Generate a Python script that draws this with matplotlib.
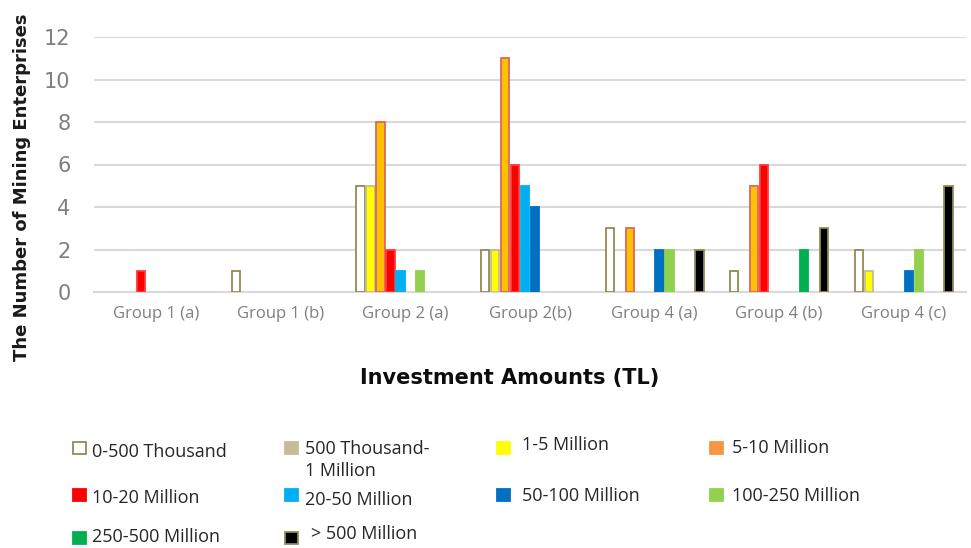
import numpy as np
import matplotlib
matplotlib.use('Agg')
import matplotlib.pyplot as plt
from matplotlib.patches import Rectangle

# categories
groups = ['Group 1 (a)', 'Group 1 (b)', 'Group 2 (a)', 'Group 2(b)',
          'Group 4 (a)', 'Group 4 (b)', 'Group 4 (c)']

# number of enterprises per investment class
v_0_500k   = [0, 1, 5, 2, 3, 1, 2]
v_500k_1m  = [0, 0, 0, 0, 0, 0, 0]
v_1_5m     = [0, 0, 5, 2, 0, 0, 1]
v_5_10m    = [0, 0, 8, 11, 3, 5, 0]
v_10_20m   = [1, 0, 2, 6, 0, 6, 0]
v_20_50m   = [0, 0, 1, 5, 0, 0, 0]
v_50_100m  = [0, 0, 0, 4, 2, 0, 1]
v_100_250m = [0, 0, 1, 0, 2, 0, 2]
v_250_500m = [0, 0, 0, 0, 0, 2, 0]
v_500m     = [0, 0, 0, 0, 2, 3, 5]

labels = ['0-500 Thousand', '500 Thousand-\n1 Million', '1-5 Million', '5-10 Million',
          '10-20 Million', '20-50 Million', '50-100 Million', '100-250 Million',
          '250-500 Million', '> 500 Million']
values = [v_0_500k, v_500k_1m, v_1_5m, v_5_10m, v_10_20m, v_20_50m,
          v_50_100m, v_100_250m, v_250_500m, v_500m]

# (fill, edge) for bars, and legend fill
bar_style = [('white', '#948a54'), ('#c4bd97', '#c4bd97'), ('#ffff00', '#c4bd97'),
             ('#ffc000', '#d9695f'), ('#ff0000', '#ff3b3b'), ('#00b0f0', '#00b0f0'),
             ('#0070c0', '#0070c0'), ('#92d050', '#92d050'), ('#00b050', '#00b050'),
             ('black', '#948a54')]
leg_fill = ['white', '#c4bd97', '#ffff00', '#f79646', '#ff0000', '#00b0f0',
            '#0070c0', '#92d050', '#00b050', 'black']
# slot of each series inside a cluster (500k-1M series sits empty near the end)
slot = [0, 8, 1, 2, 3, 4, 5, 6, 7, 9]

W, H = 971, 548
fig = plt.figure(figsize=(W / 100, H / 100), dpi=100)
ax = fig.add_axes([94 / W, 1 - 292 / H, 872 / W, 255 / H])

x = np.arange(len(groups))
step = 0.08
for k in range(len(values)):
    v = np.array(values[k], dtype=float)
    m = v > 0
    if not m.any():
        continue
    fc, ec = bar_style[k]
    ax.bar(x[m] + (slot[k] - 4.5) * step, v[m], width=0.066,
           color=fc, edgecolor=ec, linewidth=1.3, zorder=3)

ax.set_xlim(-0.5, len(groups) - 0.5)
ax.set_ylim(0, 12)
ax.set_yticks(np.arange(0, 13, 2))
ax.set_xticks(x)
ax.set_xticklabels(groups, fontsize=12, color='#7f7f7f', family=['Open Sans', 'DejaVu Sans'])
for t in ax.get_yticklabels():
    t.set_fontsize(15)
    t.set_color('#7f7f7f')
ax.tick_params(axis='both', length=0)
ax.tick_params(axis='y', pad=17)
ax.tick_params(axis='x', pad=10)
ax.grid(axis='y', color='#d9d9d9', linewidth=1.5, zorder=0)
for s in ['top', 'right', 'left']:
    ax.spines[s].set_visible(False)
ax.spines['bottom'].set_color('#d9d9d9')
ax.spines['bottom'].set_linewidth(1.5)

ax.set_ylabel('The Number of Mining Enterprises', fontsize=13, fontweight='bold', color='#1a1a1a')
ax.yaxis.set_label_coords(-0.072, 0.41)
fig.text(510 / W, 1 - 378 / H, 'Investment Amounts (TL)', fontsize=15, fontweight='bold',
         color='#0d0d0d', ha='center', va='center')

# legend, laid out in 4 columns like the original
col_patch = [73, 285, 497, 710]
col_text = [92, 305, 522, 732]
row_y = [448, 495, 538]
text_dy = [[4, 12, -3, 0], [3, 5, 1, 1], [-1, -4]]
text_dx = [[0, 0, 0, 0], [0, 0, 0, 0], [0, 6]]
for k in range(len(labels)):
    r, c = divmod(k, 4)
    px, py = col_patch[c], row_y[r]
    ec = '#948a54' if k in (0, 9) else leg_fill[k]
    fig.add_artist(Rectangle((px / W, 1 - (py + 6) / H), 13 / W, 12 / H,
                             transform=fig.transFigure, facecolor=leg_fill[k],
                             edgecolor=ec, linewidth=1.3))
    ty = py + text_dy[r][c]
    tx = col_text[c] + text_dx[r][c]
    fig.text(tx / W, 1 - ty / H, labels[k], fontsize=13, color='#262626',
             va='center', ha='left', family=['Open Sans', 'DejaVu Sans'], linespacing=1.3)

fig.savefig('out.png', dpi=100)
